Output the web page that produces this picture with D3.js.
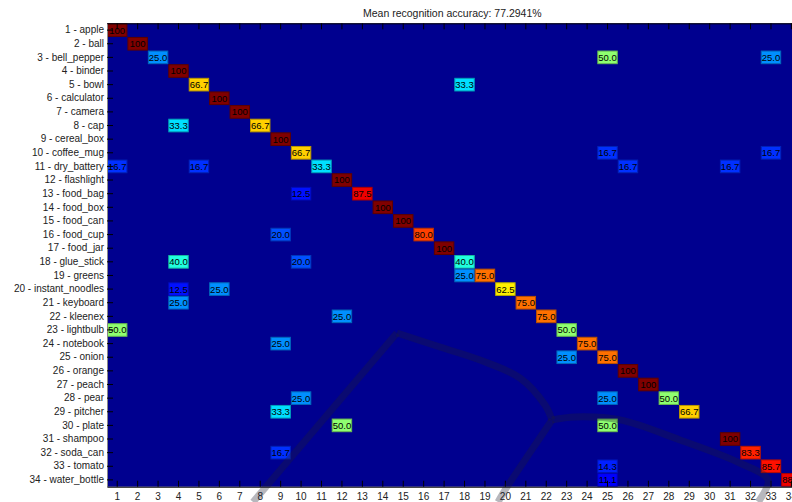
<!DOCTYPE html>
<html>
<head>
<meta charset="utf-8">
<script src="https://cdn.jsdelivr.net/npm/d3@7"></script>
<style>
  html, body { margin: 0; padding: 0; background: #fff; }
  svg { display: block; }
  text { font-family: "Liberation Sans", Arial, Helvetica, sans-serif; }
</style>
</head>
<body>
<div id="chart"></div>
<script>
// ---------------- data ----------------
const categories = [
  "apple","ball","bell_pepper","binder","bowl","calculator","camera","cap",
  "cereal_box","coffee_mug","dry_battery","flashlight","food_bag","food_box",
  "food_can","food_cup","food_jar","glue_stick","greens","instant_noodles",
  "keyboard","kleenex","lightbulb","notebook","onion","orange","peach","pear",
  "pitcher","plate","shampoo","soda_can","tomato","water_bottle"
];
const classIndex = d3.range(1, categories.length + 1);
const titleText = "Mean recognition accuracy: 77.2941%";

// non-zero confusion entries: [true row, predicted column, percent]
const entries = [
  [1,1,100],[2,2,100],[3,3,25.0],[3,25,50.0],[3,33,25.0],[4,4,100],
  [5,5,66.7],[5,18,33.3],[6,6,100],[7,7,100],[8,4,33.3],[8,8,66.7],
  [9,9,100],[10,10,66.7],[10,25,16.7],[10,33,16.7],
  [11,1,16.7],[11,5,16.7],[11,11,33.3],[11,26,16.7],[11,31,16.7],
  [12,12,100],[13,10,12.5],[13,13,87.5],[14,14,100],[15,15,100],
  [16,9,20.0],[16,16,80.0],[17,17,100],[18,4,40.0],[18,10,20.0],[18,18,40.0],
  [19,18,25.0],[19,19,75.0],[20,4,12.5],[20,6,25.0],[20,20,62.5],
  [21,4,25.0],[21,21,75.0],[22,12,25.0],[22,22,75.0],[23,1,50.0],[23,23,50.0],
  [24,9,25.0],[24,24,75.0],[25,23,25.0],[25,25,75.0],[26,26,100],[27,27,100],
  [28,10,25.0],[28,25,25.0],[28,28,50.0],[29,9,33.3],[29,29,66.7],
  [30,12,50.0],[30,25,50.0],[31,31,100],[32,9,16.7],[32,32,83.3],
  [33,25,14.3],[33,33,85.7],[34,25,11.1],[34,34,88.9]
];

// faint translucent strokes visible over the source image (in cell units)
const overlayStraight = [
  [[7.65,35.62],[14.69,23.22]]
];
const overlayCurved = [
  [[14.69,23.22],[16.80,24.25],[18.76,25.21],[20.72,26.53],[21.94,28.51],[22.28,29.6]],
  [[22.28,29.6],[21.2,32.0],[20.08,34.52],[19.64,35.62]],
  [[22.28,29.6],[23.41,29.38],[25.61,29.6],[28.55,31.07],[31.48,32.76],[32.86,34.01],[32.37,35.62]]
];

// ---------------- matlab jet(64) colormap ----------------
function jet(m) {
  const n = Math.ceil(m / 4);
  const u = [];
  for (let k = 1; k <= n; k++) u.push(k / n);
  for (let k = 1; k <= n - 1; k++) u.push(1);
  for (let k = n; k >= 1; k--) u.push(k / n);
  const off = Math.ceil(n / 2) - (m % 4 === 1 ? 1 : 0);
  const J = d3.range(m).map(() => [0, 0, 0]);
  u.forEach((val, i) => {
    const g = off + i + 1, r = g + n, b = g - n;
    if (r >= 1 && r <= m) J[r - 1][0] = val;
    if (g >= 1 && g <= m) J[g - 1][1] = val;
    if (b >= 1 && b <= m) J[b - 1][2] = val;
  });
  return J.map(c => d3.rgb(c[0] * 255, c[1] * 255, c[2] * 255).formatHex());
}
const jetColors = jet(64);

// ---------------- layout ----------------
const W = 792, H = 502;
const plotLeft = 107, plotTop = 23.3;
const cellW = 20.43, cellH = 13.63;
const plotRight = plotLeft + cellW * 34, plotBottom = plotTop + cellH * 34;

const x = d3.scaleBand().domain(classIndex).range([plotLeft, plotRight]);
const y = d3.scaleBand().domain(classIndex).range([plotTop, plotBottom]);
const xl = d3.scaleLinear().domain([0.5, 34.5]).range([plotLeft, plotRight]);
const yl = d3.scaleLinear().domain([0.5, 34.5]).range([plotTop, plotBottom]);
const color = d3.scaleQuantize().domain([0, 100]).range(jetColors);

const svg = d3.select("#chart").append("svg").attr("width", W).attr("height", H);

svg.append("defs").append("clipPath").attr("id", "plotclip")
  .append("rect").attr("x", plotLeft).attr("y", plotTop)
  .attr("width", plotRight - plotLeft).attr("height", plotBottom - plotTop);

// background (all zero cells)
svg.append("rect")
  .attr("x", plotLeft).attr("y", plotTop)
  .attr("width", plotRight - plotLeft).attr("height", plotBottom - plotTop)
  .attr("fill", color(0));

const plot = svg.append("g").attr("clip-path", "url(#plotclip)");

const cells = plot.selectAll("g.cell").data(entries).join("g").attr("class", "cell");
cells.append("rect")
  .attr("x", d => x(d[1]) + 0.5)
  .attr("y", d => y(d[0]) + 0.5)
  .attr("width", x.bandwidth() - 1)
  .attr("height", y.bandwidth() - 1)
  .attr("fill", d => color(d[2]))
  .attr("stroke", d => d3.color(color(d[2])).darker(0.9))
  .attr("stroke-width", 1);
cells.append("text")
  .attr("x", d => x(d[1]) + x.bandwidth() / 2)
  .attr("y", d => y(d[0]) + y.bandwidth() / 2)
  .attr("dy", "0.36em")
  .attr("text-anchor", "middle")
  .attr("font-size", 9.5)
  .attr("fill", "#000")
  .text(d => d[2] >= 100 ? "100" : d3.format(".1f")(d[2]));

// axes
const axLeft = d3.axisLeft(y).tickSizeInner(-6).tickSizeOuter(0).tickPadding(3)
  .tickFormat(i => `${i} - ${categories[i - 1]}`);
const gL = svg.append("g").attr("transform", `translate(${plotLeft},0)`).call(axLeft);
gL.select(".domain").attr("stroke", "#8a8a8a");
gL.selectAll(".tick line").attr("stroke", "#000");
gL.selectAll("text").attr("font-size", 10).attr("fill", "#222")
  .attr("font-family", "Liberation Sans, Arial, sans-serif");

const axBottom = d3.axisBottom(x).tickSizeInner(-6).tickSizeOuter(0).tickPadding(6);
const gB = svg.append("g").attr("transform", `translate(0,${plotBottom})`).call(axBottom);
gB.select(".domain").attr("stroke", "#000");
gB.selectAll(".tick line").attr("stroke", "#000");
gB.selectAll("text").attr("font-size", 10).attr("fill", "#222")
  .attr("font-family", "Liberation Sans, Arial, sans-serif");

const axTop = d3.axisTop(x).tickSizeInner(-6).tickSizeOuter(0).tickFormat("");
const gT = svg.append("g").attr("transform", `translate(0,${plotTop})`).call(axTop);
gT.select(".domain").attr("stroke", "#000");
gT.selectAll(".tick line").attr("stroke", "#000");

// title
svg.append("text")
  .attr("x", (plotLeft + plotRight) / 2 - 2)
  .attr("y", 17)
  .attr("text-anchor", "middle")
  .attr("font-size", 10.5)
  .attr("fill", "#222")
  .text(titleText);

// translucent overlay strokes (drawn over everything, like in the source)
const ov = svg.append("g").attr("fill", "none")
  .attr("stroke", "rgba(30,30,50,0.32)")
  .attr("stroke-width", 7)
  .attr("stroke-linecap", "butt")
  .attr("stroke-linejoin", "round");
ov.selectAll("path.s").data(overlayStraight).join("path").attr("class", "s")
  .attr("d", d3.line().x(p => xl(p[0])).y(p => yl(p[1])));
ov.selectAll("path.c").data(overlayCurved).join("path").attr("class", "c")
  .attr("d", d3.line().x(p => xl(p[0])).y(p => yl(p[1])).curve(d3.curveCatmullRom));
</script>
</body>
</html>
